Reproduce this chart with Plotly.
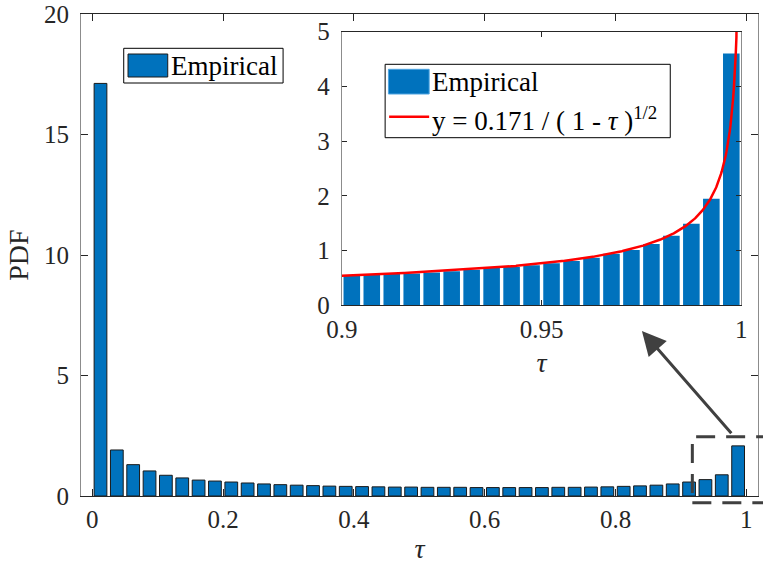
import numpy as np
import plotly.graph_objects as go

# ---- data -------------------------------------------------------------
# empirical PDF of tau over [0, 1], 40 bins
main_pdf = [17.12, 1.91, 1.30, 1.04, 0.86, 0.75, 0.66, 0.62, 0.58, 0.54,
            0.50, 0.47, 0.45, 0.43, 0.41, 0.40, 0.39, 0.38, 0.37, 0.37,
            0.36, 0.36, 0.36, 0.35, 0.35, 0.35, 0.35, 0.35, 0.36, 0.36,
            0.37, 0.38, 0.40, 0.42, 0.45, 0.50, 0.58, 0.68, 0.88, 2.08]
main_lo, main_hi = 0.0, 1.0

# zoomed empirical PDF over [0.9, 1], 20 bins
zoom_pdf = [0.54, 0.555, 0.57, 0.58, 0.60, 0.62, 0.65, 0.68, 0.70, 0.73,
            0.77, 0.81, 0.87, 0.94, 1.01, 1.12, 1.27, 1.49, 1.945, 4.60]
zoom_lo, zoom_hi = 0.9, 1.0

# fitted law y = a / (1 - tau)^(1/2)
fit_a = 0.171

main_xticks = [0, 0.2, 0.4, 0.6, 0.8, 1]
main_xticklabels = ["0", "0.2", "0.4", "0.6", "0.8", "1"]
main_yticks = [0, 5, 10, 15, 20]
zoom_xticks = [0.9, 0.95, 1]
zoom_xticklabels = ["0.9", "0.95", "1"]
zoom_yticks = [0, 1, 2, 3, 4, 5]

# ---- derived ----------------------------------------------------------
def centers(lo, hi, n):
    edges = np.linspace(lo, hi, n + 1)
    return 0.5 * (edges[:-1] + edges[1:]), (hi - lo) / n

main_x, main_w = centers(main_lo, main_hi, len(main_pdf))
zoom_x, zoom_w = centers(zoom_lo, zoom_hi, len(zoom_pdf))
tau_fit = np.linspace(zoom_lo, 0.99995, 600)
y_fit = fit_a / np.sqrt(1.0 - tau_fit)

# ---- style ------------------------------------------------------------
FONT = "Liberation Serif, Times New Roman, serif"
BLUE = "#0072BD"
TXT = "#262626"
W, H = 763, 564
ML, MR, MT, MB = 81, 5.3, 14, 68
PW, PH = W - ML - MR, H - MT - MB
XR = [-0.0173, 1.0179]
YR = [0, 20]


def fx(px):  # pixel column -> paper x
    return (px - ML) / PW


def fy(py):  # pixel row -> paper y
    return (H - MB - py) / PH


def dx(v):  # main-axis data x -> paper x
    return (v - XR[0]) / (XR[1] - XR[0])


def dy(v):  # main-axis data y -> paper y
    return (v - YR[0]) / (YR[1] - YR[0])


fig = go.Figure()

fig.add_trace(go.Bar(
    x=main_x, y=main_pdf, width=main_w * 0.78,
    marker=dict(color=BLUE, line=dict(color="#1a1a1a", width=1)),
    showlegend=False, xaxis="x", yaxis="y"))

fig.add_trace(go.Bar(
    x=zoom_x, y=zoom_pdf, width=zoom_w * 0.83,
    marker=dict(color=BLUE, line=dict(width=0)),
    showlegend=False, xaxis="x2", yaxis="y2"))

fig.add_trace(go.Scatter(
    x=tau_fit, y=y_fit, mode="lines",
    line=dict(color="#FF0000", width=2.5),
    showlegend=False, xaxis="x2", yaxis="y2"))

axis_common = dict(showgrid=False, zeroline=False, showline=True,
                   mirror="ticks", ticks="inside",
                   tickfont=dict(family=FONT, size=25, color=TXT))

inset_x0, inset_x1 = fx(341.7), fx(741.0)
inset_y0, inset_y1 = fy(305.3), fy(31.7)

fig.update_layout(
    width=W, height=H,
    margin=dict(l=ML, r=MR, t=MT, b=MB, autoexpand=False),
    paper_bgcolor="white", plot_bgcolor="white",
    font=dict(family=FONT, color=TXT),
    barmode="overlay",
    xaxis=dict(**axis_common, range=XR, domain=[0, 1],
               tickvals=main_xticks, ticktext=main_xticklabels,
               linecolor=TXT, tickcolor=TXT, ticklen=7, linewidth=1,
               ticklabelstandoff=1,
               title=dict(text="<i>τ</i>", font=dict(family=FONT, size=28, color=TXT),
                          standoff=18)),
    yaxis=dict(**axis_common, range=YR, domain=[0, 1],
               tickvals=main_yticks,
               linecolor="#8c8c8c", tickcolor=TXT, ticklen=7, linewidth=1,
               ticklabelstandoff=6,
               title=dict(text="PDF", font=dict(family=FONT, size=28, color=TXT),
                          standoff=7)),
    xaxis2=dict(**axis_common, range=[zoom_lo, zoom_hi],
                domain=[inset_x0, inset_x1], anchor="y2",
                tickvals=zoom_xticks, ticktext=zoom_xticklabels,
                linecolor=TXT, tickcolor=TXT, ticklen=5, linewidth=1,
                ticklabelstandoff=2,
                title=dict(text="<i>τ</i>", font=dict(family=FONT, size=28, color=TXT),
                           standoff=10)),
    yaxis2=dict(**axis_common, range=[0, 5],
                domain=[inset_y0, inset_y1], anchor="x2",
                tickvals=zoom_yticks,
                linecolor="#8c8c8c", tickcolor=TXT, ticklen=5, linewidth=1,
                ticklabelstandoff=6),
)

shapes = []
annotations = []
LEG_FONT = dict(family=FONT, size=27, color="#000")

# main legend
shapes.append(dict(type="rect", xref="paper", yref="paper",
                   x0=fx(123.7), x1=fx(283), y0=fy(83), y1=fy(48.3),
                   line=dict(color="#000000", width=1), fillcolor="white"))
shapes.append(dict(type="rect", xref="paper", yref="paper",
                   x0=fx(128), x1=fx(167.7), y0=fy(77), y1=fy(54),
                   line=dict(color="#1a1a1a", width=1), fillcolor=BLUE))
annotations.append(dict(text="Empirical", xref="paper", yref="paper",
                        x=fx(169), y=fy(66), xanchor="left", yanchor="middle",
                        showarrow=False, font=LEG_FONT))

# inset legend
shapes.append(dict(type="rect", xref="paper", yref="paper",
                   x0=fx(385), x1=fx(670), y0=fy(137.7), y1=fy(64.3),
                   line=dict(color="#000000", width=1), fillcolor="white"))
shapes.append(dict(type="rect", xref="paper", yref="paper",
                   x0=fx(388.3), x1=fx(429), y0=fy(94), y1=fy(69.3),
                   line=dict(color="#4da3e0", width=1), fillcolor=BLUE))
shapes.append(dict(type="line", xref="paper", yref="paper",
                   x0=fx(389), x1=fx(429), y0=fy(116.7), y1=fy(116.7),
                   line=dict(color="#FF0000", width=2.5)))
annotations.append(dict(text="Empirical", xref="paper", yref="paper",
                        x=fx(430), y=fy(82), xanchor="left", yanchor="middle",
                        showarrow=False, font=LEG_FONT))
annotations.append(dict(text="y = 0.171 / ( 1 - <i>τ</i> )<sup>1/2</sup>",
                        xref="paper", yref="paper",
                        x=fx(430), y=fy(119), xanchor="left", yanchor="middle",
                        showarrow=False, font=LEG_FONT))

# dashed box around the tail of the main histogram
box_x0, box_x1 = 0.9175, 1.045
box_y0, box_y1 = -0.28, 2.46
shapes.append(dict(type="rect", xref="paper", yref="paper",
                   x0=dx(box_x0), x1=dx(box_x1), y0=dy(box_y0), y1=dy(box_y1),
                   line=dict(color="#404040", width=3, dash="19px,11px"),
                   fillcolor="rgba(0,0,0,0)"))

# arrow from the box to the inset
annotations.append(dict(x=0.8404, y=6.85, ax=0.9817, ay=box_y1,
                        xref="x", yref="y", axref="x", ayref="y",
                        text=" ", showarrow=True, arrowhead=2, arrowsize=1.6,
                        arrowwidth=3, arrowcolor="#404040"))

fig.update_layout(shapes=shapes, annotations=annotations)

fig.write_html("out.html")
